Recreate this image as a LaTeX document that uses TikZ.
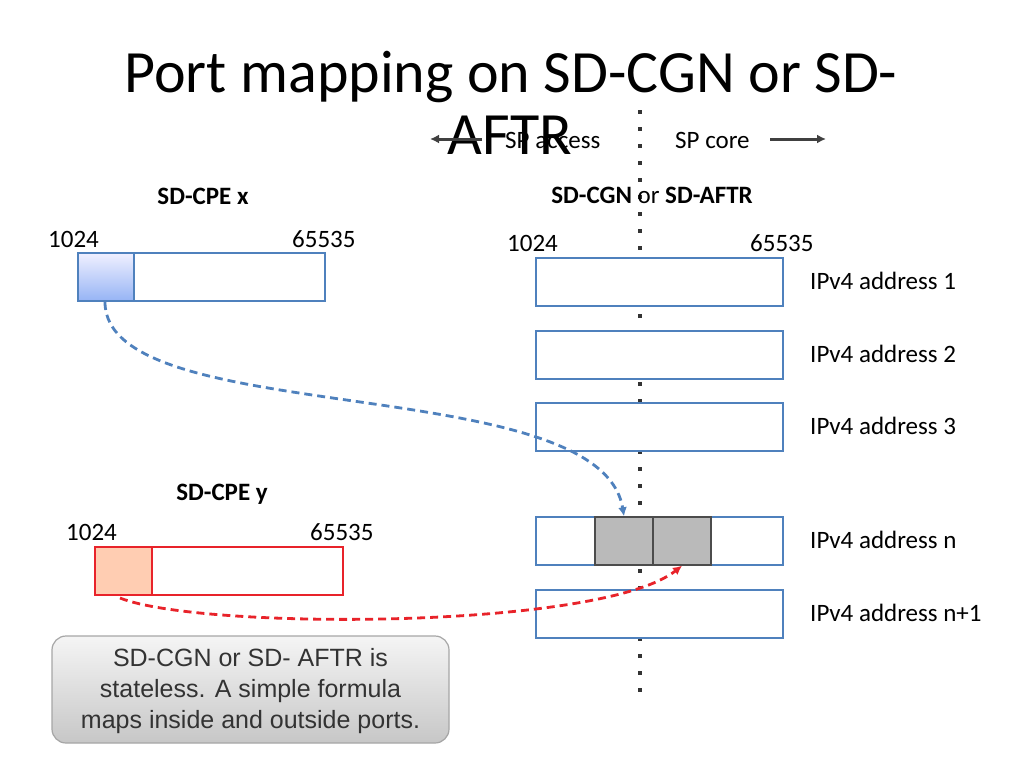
\documentclass[tikz,border=0pt]{standalone}
\usepackage{fontspec}
\setmainfont{Carlito}
\newfontfamily\arialf{Liberation Sans}
\usetikzlibrary{arrows.meta}
\definecolor{bblue}{HTML}{4F81BD}
\definecolor{rred}{HTML}{E8232A}
\begin{document}
\begin{tikzpicture}[x=1pt,y=-1pt,
  lbl/.style={font=\fontsize{25}{28}\selectfont,inner sep=0},
  hd/.style={font=\fontsize{25}{28}\selectfont\bfseries,inner sep=0},
  bbox/.style={draw=bblue,line width=2pt,fill=white},
  rbox/.style={draw=rred,line width=2pt,fill=white}]
\useasboundingbox (0,0) rectangle (1024,768);
\fill[white] (0,0) rectangle (1024,768);
% divider
\draw[line width=4pt,dash pattern=on 4pt off 13pt,black!80] (640,110) -- (640,698);
% title
\node[inner sep=0,font=\fontsize{60}{64}\selectfont] (t1) at (511,77) {Port mapping on SD-CGN or SD-};
\node[inner sep=0,font=\fontsize{60}{64}\selectfont] (t2) at (510,135) {AFTR};
% access/core
\node[lbl,anchor=west] (acc) at (505,140) {SP access};
\node[lbl,anchor=west] (core) at (675,140) {SP core};
\coordinate (la1) at (482,139); \coordinate (la2) at (430,139);
\coordinate (ra1) at (770,139); \coordinate (ra2) at (826,139);
\draw[-{Latex[length=9pt,width=9pt]},line width=3pt,black!75] (la1) -- (la2);
\draw[-{Latex[length=9pt,width=9pt]},line width=3pt,black!75] (ra1) -- (ra2);
% headings
\node[hd] (cpex) at (203,196) {SD-CPE x};
\node[lbl] (cgn) at (652,195) {\textbf{SD-CGN} or \textbf{SD-AFTR}};
\node[hd] (cpey) at (222,494) {SD-CPE y};
% CPE x
\node[lbl,anchor=west] (x1) at (48,239) {1024};
\node[lbl,anchor=west] (x2) at (292,239) {65535};
\draw[bbox] (78,253) rectangle (325,301);
\shade[top color=blue!6,bottom color={rgb,255:red,150;green,180;blue,245}] (78,253) rectangle (134,301);
\draw[bbox,fill=none] (78,253) rectangle (325,301);
\draw[draw=bblue,line width=2pt] (134,253) -- (134,301);
\coordinate (bs) at (105,302);
% CPE y
\node[lbl,anchor=west] (y1) at (66,532) {1024};
\node[lbl,anchor=west] (y2) at (310,532) {65535};
\draw[rbox] (95,547) rectangle (343,595);
\fill[red!30!orange!30!white] (95,547) rectangle (152,595);
\draw[rbox,fill=none] (95,547) rectangle (343,595);
\draw[draw=rred,line width=2pt] (152,547) -- (152,595);
\coordinate (rs) at (120,598);
% right boxes
\node[lbl,anchor=west] (c1) at (507,243) {1024};
\node[lbl,anchor=west] (c2) at (750,243) {65535};
\foreach \y/\t/\n in {258/1/a,331/2/b,403/3/c,517/n/d,590/n+1/e}{
  \draw[bbox] (536,\y) rectangle (783,\y+48);
  \node[lbl,anchor=west] (ip\n) at (810,\y+23) {IPv4 address \t};
}
\node[draw=black!70,line width=1.5pt,fill=black!27,minimum width=58pt,minimum height=48pt,inner sep=0] (g1) at (624,541) {};
\node[draw=black!70,line width=1.5pt,fill=black!27,minimum width=58pt,minimum height=48pt,inner sep=0] (g2) at (682,541) {};
\draw[bbox,fill=none] (536,517) rectangle (783,565);
\draw[black!70,line width=1.5pt] (595,517) rectangle (711,565) (653,517) -- (653,565);
% connectors
\draw[bblue,line width=2.8pt,dash pattern=on 8pt off 5pt,-{Latex[length=9pt,width=9pt]}] (bs) .. controls (105,430) and (600,370) .. (g1.north);
\draw[rred,line width=2.8pt,dash pattern=on 8pt off 5pt,-{Latex[length=9pt,width=9pt]}] (rs) .. controls (200,630) and (600,630) .. (g2.south);
% callout
\node[draw=black!35,line width=1.2pt,rounded corners=14pt,top color=black!4,bottom color=black!22,
  minimum width=397pt,minimum height=107pt,align=center,font=\arialf\fontsize{25}{31}\selectfont,
  text=black!80] (note) at (250.5,689.5)
  {\rule{0pt}{22pt}SD-CGN or SD- AFTR is\\stateless. A simple formula\\maps inside and outside ports.};
\end{tikzpicture}
\end{document}
